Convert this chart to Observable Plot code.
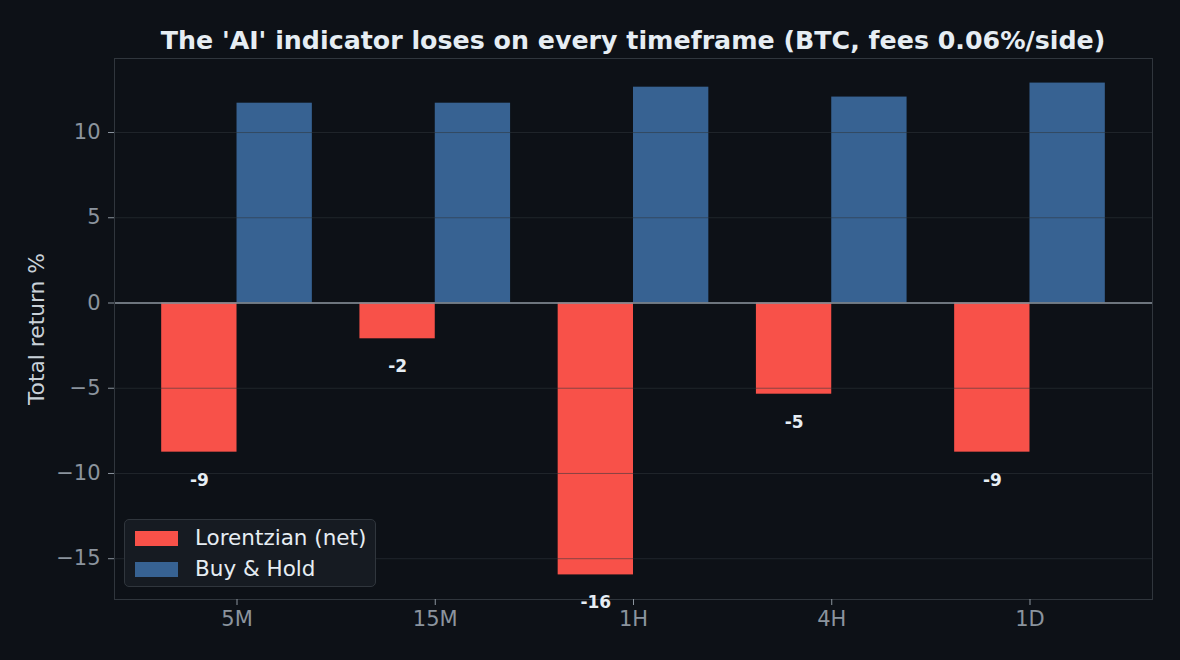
<!DOCTYPE html>
<html>
<head>
<meta charset="utf-8">
<script src="https://cdn.jsdelivr.net/npm/d3@7"></script>
<script src="https://cdn.jsdelivr.net/npm/@observablehq/plot@0.6"></script>
<style>
  html, body { margin: 0; padding: 0; background: #0d1117; }
  #wrap { position: relative; width: 1180px; height: 660px; background: #0d1117; overflow: hidden; font-family: "DejaVu Sans", sans-serif; }
  #title { height: 54px; position: relative; }
  #title span { position: absolute; left: 114px; width: 1038px; top: 28px; text-align: center; font-size: 25.3px; line-height: 25px; font-weight: bold; color: #e6edf3; white-space: nowrap; }
  #legend { position: absolute; left: 124px; top: 519px; width: 250px; height: 66px; background: #161b22; border: 1px solid #30363d; border-radius: 5px; box-sizing: content-box; }
  .item { position: absolute; left: 10px; height: 20px; }
  .sw { position: absolute; left: 0; top: 2px; width: 43px; height: 15px; }
  .lab { position: absolute; left: 60px; top: -3px; font-size: 21.5px; line-height: 24px; color: #e6edf3; white-space: nowrap; }
</style>
</head>
<body>
<div id="wrap">
  <div id="title"><span></span></div>
  <div id="chart"></div>
  <div id="legend"></div>
</div>
<script>
const titleText = "The 'AI' indicator loses on every timeframe (BTC, fees 0.06%/side)";
const yLabel = "Total return %";
const categories = ["5M", "15M", "1H", "4H", "1D"];
const seriesNames = ["Lorentzian (net)", "Buy & Hold"];
const seriesColors = ["#f85149", "#376292"];
const lorentzian = [-8.75, -2.1, -15.95, -5.35, -8.75];
const buyHold = [11.72, 11.72, 12.66, 12.08, 12.9];
const yTicks = [-15, -10, -5, 0, 5, 10];

const barW = 0.38;
const rows = [];
categories.forEach((c, i) => {
  rows.push({cat: c, i, series: seriesNames[0], value: lorentzian[i], x1: i - barW, x2: i});
  rows.push({cat: c, i, series: seriesNames[1], value: buyHold[i], x1: i, x2: i + barW});
});
const redRows = rows.filter(d => d.series === seriesNames[0]);

// matplotlib-like 5% margins
const allV = lorentzian.concat(buyHold);
const [vmin, vmax] = d3.extent(allV);
const vpad = (vmax - vmin) * 0.05;
const xmin = -barW, xmax = categories.length - 1 + barW;
const xpad = (xmax - xmin) * 0.05;

document.querySelector("#title span").textContent = titleText;

const chart = Plot.plot({
  width: 1180,
  height: 606,
  marginTop: 4,
  marginBottom: 61,
  marginLeft: 114,
  marginRight: 28,
  style: {background: "transparent", fontFamily: "DejaVu Sans, sans-serif", fontSize: "21px", color: "#8b949e"},
  x: {type: "linear", domain: [xmin - xpad, xmax + xpad]},
  y: {domain: [vmin - vpad, vmax + vpad]},
  color: {domain: seriesNames, range: seriesColors},
  marks: [
    Plot.rectY(rows, {x1: "x1", x2: "x2", y1: 0, y2: "value", fill: "series"}),
    Plot.gridY(yTicks, {stroke: "#30363d", strokeOpacity: 0.55, strokeWidth: 1}),
    Plot.ruleY([0], {stroke: "#8b949e", strokeWidth: 1.5}),
    Plot.frame({stroke: "#30363d", strokeWidth: 1}),
    Plot.axisX(d3.range(categories.length), {
      tickFormat: i => categories[i], tickSize: 6, tickPadding: 6,
      stroke: "#8b949e", fill: "#8b949e", fontSize: 21, label: null
    }),
    Plot.axisY(yTicks, {
      tickSize: 6, tickPadding: 8, stroke: "#8b949e", fill: "#8b949e", fontSize: 21,
      label: null
    }),
    Plot.text([yLabel], {
      frameAnchor: "left", dx: -86, rotate: -90, lineAnchor: "top", textAnchor: "middle",
      fill: "#c9d1d9", fontSize: 21.8
    }),
    Plot.text(redRows, {
      x: d => d.i - barW / 2, y: "value", text: d => String(Math.round(d.value)),
      dy: 28, fill: "#e6edf3", fontWeight: "bold", fontSize: 17, lineAnchor: "middle"
    })
  ]
});
document.getElementById("chart").appendChild(chart);

const legend = document.getElementById("legend");
seriesNames.forEach((name, k) => {
  const item = document.createElement("div");
  item.className = "item";
  item.style.top = (9 + k * 31) + "px";
  const sw = document.createElement("div");
  sw.className = "sw";
  sw.style.background = seriesColors[k];
  const lab = document.createElement("div");
  lab.className = "lab";
  lab.textContent = name;
  item.appendChild(sw);
  item.appendChild(lab);
  legend.appendChild(item);
});
</script>
</body>
</html>
